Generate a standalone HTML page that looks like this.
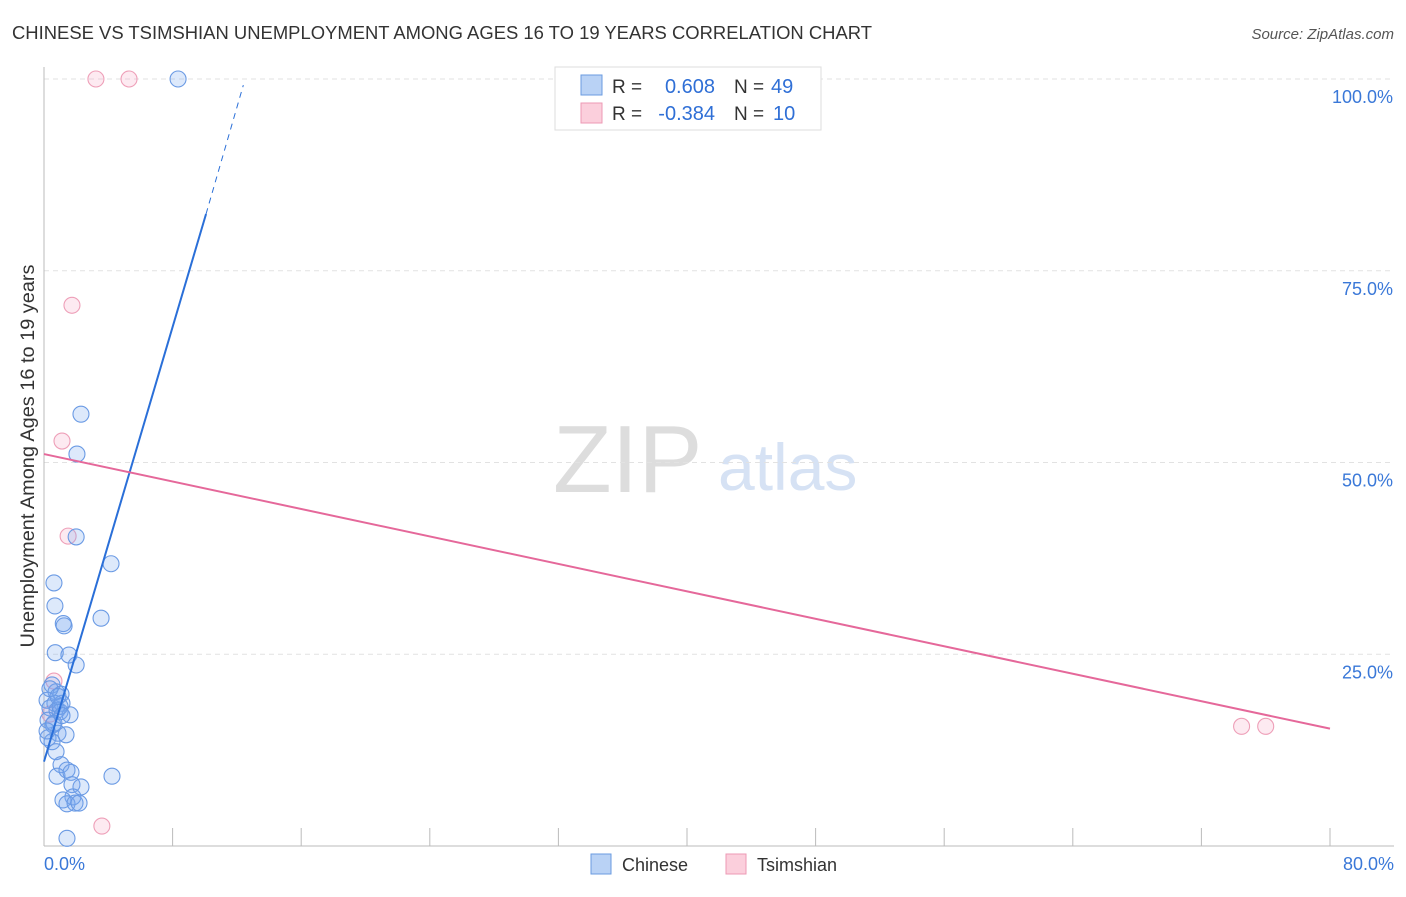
<!DOCTYPE html>
<html><head><meta charset="utf-8"><style>
body{margin:0;background:#fff;font-family:"Liberation Sans",sans-serif}
svg text{font-family:"Liberation Sans",sans-serif}
</style></head><body>
<svg id="c" width="1406" height="892">
<text x="12" y="39" font-size="18" fill="#333" textLength="860" lengthAdjust="spacingAndGlyphs">CHINESE VS TSIMSHIAN UNEMPLOYMENT AMONG AGES 16 TO 19 YEARS CORRELATION CHART</text>
<text x="1394" y="39" font-size="15" fill="#555" text-anchor="end" font-style="italic">Source: ZipAtlas.com</text>
<text transform="translate(34,456) rotate(-90)" font-size="19" fill="#333" text-anchor="middle" textLength="383" lengthAdjust="spacingAndGlyphs">Unemployment Among Ages 16 to 19 years</text>
<text x="553" y="492" font-size="96" fill="#ddd" font-family="Liberation Serif">ZIP</text>
<text x="718" y="490" font-size="66" fill="#d6e2f4">atlas</text>
<g id="grid"></g><g id="axes"></g><g id="marks"></g>
<g>
<rect x="555" y="67" width="266" height="63" fill="#fff" stroke="#ddd"/>
<rect x="581" y="75" width="21" height="20" fill="#b9d2f5" stroke="#6a9be0"/>
<rect x="581" y="103" width="21" height="20" fill="#fbcfdc" stroke="#ec9ab4"/>
<text x="612" y="93" font-size="19" fill="#333">R =</text>
<text x="715" y="93" font-size="20" fill="#2f6fd6" text-anchor="end">0.608</text>
<text x="734" y="93" font-size="19" fill="#333">N =</text>
<text x="771" y="93" font-size="20" fill="#2f6fd6">49</text>
<text x="612" y="120" font-size="19" fill="#333">R =</text>
<text x="715" y="120" font-size="20" fill="#2f6fd6" text-anchor="end">-0.384</text>
<text x="734" y="120" font-size="19" fill="#333">N =</text>
<text x="773" y="120" font-size="20" fill="#2f6fd6">10</text>
</g>
<g>
<rect x="591" y="854" width="20" height="20" fill="#b9d2f5" stroke="#6a9be0"/>
<text x="622" y="871" font-size="18" fill="#333">Chinese</text>
<rect x="726" y="854" width="20" height="20" fill="#fbcfdc" stroke="#ec9ab4"/>
<text x="757" y="871" font-size="18" fill="#333">Tsimshian</text>
</g>
</svg>
<script>
const yTicks=[100,75,50,25];
const xTickLabels=["0.0%","80.0%"];
const chineseX=[8.34,2.3,2.05,2.0,4.17,0.62,0.68,1.2,1.25,3.55,0.7,1.55,2.0,0.5,0.75,1.06,0.19,0.68,1.12,0.37,0.81,1.0,1.62,0.25,0.56,0.87,1.37,0.25,0.5,0.75,1.06,0.81,1.43,1.68,1.74,2.3,1.8,1.18,1.43,1.93,2.18,4.23,1.43,0.37,0.62,1.0,0.19,0.87,1.12];
const chineseY=[100,56.3,51.1,40.3,36.8,34.3,31.3,29.0,28.7,29.7,25.2,24.9,23.6,21.0,20.1,19.8,19.0,18.6,18.6,18.0,17.7,17.5,17.1,16.4,15.8,14.7,14.5,14.1,13.6,12.3,10.6,9.1,9.9,9.6,8.0,7.7,6.4,6.0,5.5,5.6,5.6,9.1,1.0,20.5,16.0,18.2,15.0,19.5,17.0];
const tsimX=[3.23,5.29,1.74,1.12,1.5,0.62,0.37,3.6,74.5,76.0];
const tsimY=[100,100,70.5,52.8,40.4,21.5,17.2,2.6,15.6,15.6];
const blueTrend=[[0,11],[10.08,82.4],[12.4,99.2]];
const pinkTrend=[[0,51.1],[80,15.3]];
const X=v=>44+v*16.075, Y=v=>846-v*7.67;
const NS="http://www.w3.org/2000/svg";
function mk(t,a,p){const e=document.createElementNS(NS,t);for(const k in a)e.setAttribute(k,a[k]);document.getElementById(p).appendChild(e);return e;}
yTicks.forEach(t=>{
 const l=mk('line',{x1:44,x2:1394,y1:Y(t),y2:Y(t),stroke:'#e2e2e2','stroke-dasharray':'5,4'},'grid');
 
 
 const tx=mk('text',{x:1393,y:Y(t)+24,'font-size':18,fill:'#3a78d8','text-anchor':'end'},'grid');tx.textContent=t.toFixed(1)+'%';
 
 
});
let a=mk('line',{x1:44,x2:44,y1:67,y2:846,stroke:'#bbb'},'axes');


a=mk('line',{x1:44,x2:1394,y1:846,y2:846,stroke:'#bbb'},'axes');


for(let i=0;i<=10;i++){const t=mk('line',{x1:X(i*8),x2:X(i*8),y1:828,y2:846,stroke:'#bbb'},'axes');
 
 }
[[0,44,'start'],[1,1394,'end']].forEach(([i,x,an])=>{const t=mk('text',{x:x,y:870,'font-size':18,fill:'#3a78d8','text-anchor':an},'axes');t.textContent=xTickLabels[i];
 
 });
tsimX.forEach((x,i)=>{const c=mk('circle',{cx:X(x),cy:Y(tsimY[i]),r:8,fill:'rgba(245,160,190,0.22)',stroke:'#ee9fb8','stroke-width':1.1},'marks');
 
 });
chineseX.forEach((x,i)=>{const c=mk('circle',{cx:X(x),cy:Y(chineseY[i]),r:8,fill:'rgba(120,168,238,0.25)',stroke:'#6a9ae4','stroke-width':1.1},'marks');
 
 });
let l=mk('line',{x1:X(blueTrend[0][0]),y1:Y(blueTrend[0][1]),x2:X(blueTrend[1][0]),y2:Y(blueTrend[1][1]),stroke:'#2a6fd8','stroke-width':2},'marks');


l=mk('line',{x1:X(blueTrend[1][0]),y1:Y(blueTrend[1][1]),x2:X(blueTrend[2][0]),y2:Y(blueTrend[2][1]),stroke:'#2a6fd8','stroke-width':1,'stroke-dasharray':'6,5'},'marks');


l=mk('line',{x1:X(pinkTrend[0][0]),y1:Y(pinkTrend[0][1]),x2:X(pinkTrend[1][0]),y2:Y(pinkTrend[1][1]),stroke:'#e5689a','stroke-width':2},'marks');


</script>
</body></html>
